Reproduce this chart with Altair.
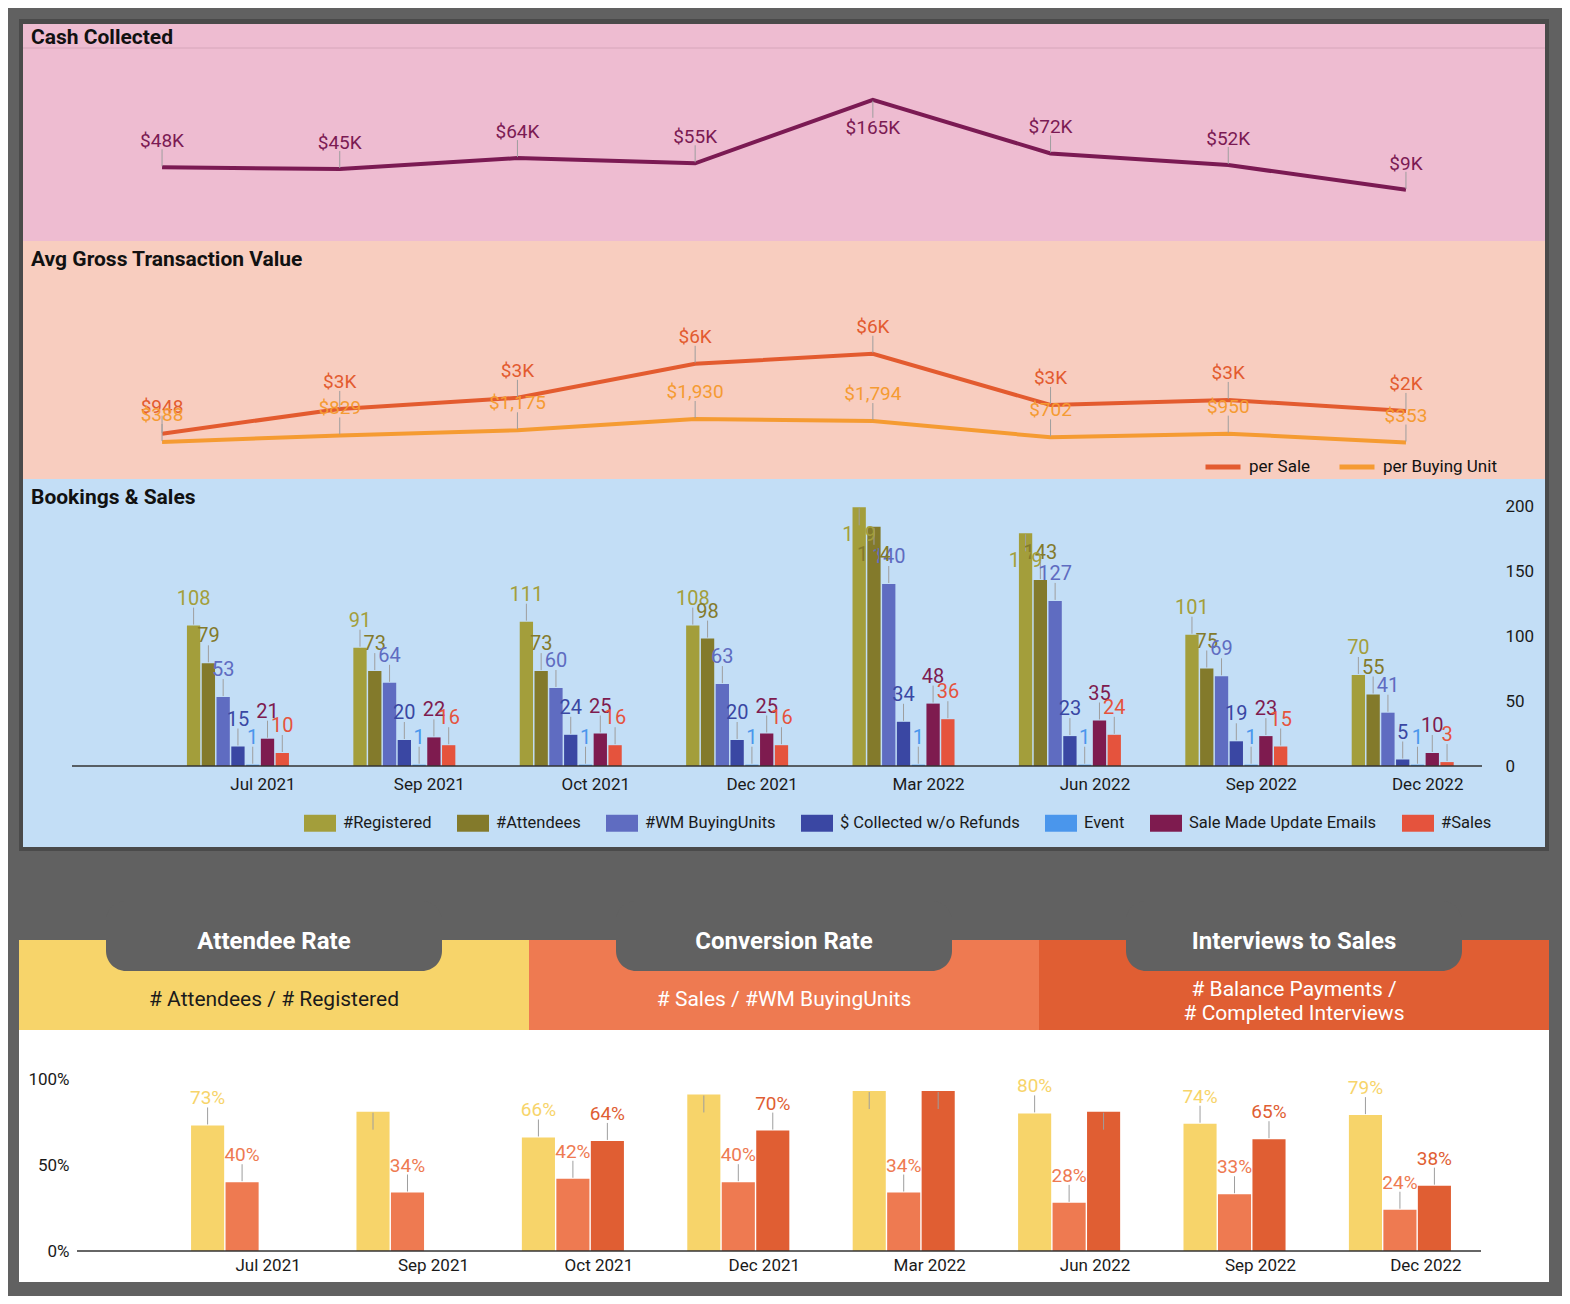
import altair as alt
import pandas as pd

# ---------------- data ----------------
months = ["Jul 2021", "Sep 2021", "Oct 2021", "Dec 2021",
          "Mar 2022", "Jun 2022", "Sep 2022", "Dec 2022"]

cash_collected = [48000, 45000, 64000, 55000, 165000, 72000, 52000, 9000]

agtv_series = ["per Sale", "per Buying Unit"]
agtv_per_sale = [948, 2604, 3349, 5631, 6302, 2872, 3208, 2470]
agtv_per_unit = [388, 829, 1175, 1930, 1794, 702, 950, 353]

booking_series = ["#Registered", "#Attendees", "#WM BuyingUnits",
                  "$ Collected w/o Refunds", "Event",
                  "Sale Made Update Emails", "#Sales"]
registered = [108, 91, 111, 108, 199, 179, 101, 70]
attendees = [79, 73, 73, 98, 184, 143, 75, 55]
wm_buying_units = [53, 64, 60, 63, 140, 127, 69, 41]
collected_wo_refunds = [15, 20, 24, 20, 34, 23, 19, 5]
event = [1, 1, 1, 1, 1, 1, 1, 1]
sale_update_emails = [21, 22, 25, 25, 48, 35, 23, 10]
sales = [10, 16, 16, 16, 36, 24, 15, 3]

rate_names = ["Attendee Rate", "Conversion Rate", "Interviews to Sales"]
rate_formulas = ["# Attendees / # Registered",
                 "# Sales / #WM BuyingUnits",
                 "# Balance Payments /\n# Completed Interviews"]
attendee_rate = [0.73, 0.81, 0.66, 0.91, 0.93, 0.80, 0.74, 0.79]
conversion_rate = [0.40, 0.34, 0.42, 0.40, 0.34, 0.28, 0.33, 0.24]
interviews_to_sales = [None, None, 0.64, 0.70, 0.93, 0.81, 0.65, 0.38]

# ---------------- style ----------------
FONT = "Roboto"
W = 1530
BG = "#616161"
BORDER = "#4a4a4a"
PINK = "#EEBCD1"
PEACH = "#F8CDBF"
BLUE = "#C3DEF6"
LEADER = "#9e9e9e"
CASH_COLOR = "#7B1A53"
agtv_colors = ["#E35B2F", "#F59B32"]
book_colors = ["#A39E3B", "#837A2B", "#5F6CC1", "#3A47A3",
               "#4A96EC", "#7E1B4F", "#E5533D"]
rate_colors = ["#F7D46A", "#EE7A51", "#E05E33"]


def block(color, x0, x1, y0, y1):
    return alt.Chart(pd.DataFrame({"block": [color]})).mark_rect(color=color).encode(
        x=alt.value(x0), x2=alt.value(x1), y=alt.value(y0), y2=alt.value(y1))


def heading(text, y):
    return alt.Chart(pd.DataFrame({"heading": [text]})).mark_text(
        align="left", baseline="alphabetic", fontSize=21, fontWeight="bold",
        color="#111111", font=FONT
    ).encode(x=alt.value(12), y=alt.value(y), text="heading:N")


# ---------------- Cash Collected ----------------
H1 = 222
cash_df = pd.DataFrame({"month": months, "cash": cash_collected})
cash_df["label"] = ["$%dK" % round(v / 1000) for v in cash_collected]
cash_df["pos"] = ["below" if v > 150000 else "above" for v in cash_collected]

cx = alt.X("month:N", sort=months, scale=alt.Scale(type="point", padding=0.805), axis=None)
cy = alt.Y("cash:Q", scale=alt.Scale(domain=[-79700, 305000], nice=False, zero=False), axis=None)
cash_base = alt.Chart(cash_df).encode(x=cx, y=cy)

cash_chart = alt.layer(
    block(BORDER, 0, W, 0, H1),
    block(PINK, 4, W - 4, 5, H1),
    alt.Chart(pd.DataFrame({"r": [0]})).mark_rule(color="#D6A6BA", strokeWidth=1).encode(
        x=alt.value(4), x2=alt.value(W - 4), y=alt.value(29)),
    heading("Cash Collected", 25),
    cash_base.mark_line(color=CASH_COLOR, strokeWidth=4),
    cash_base.transform_filter("datum.pos == 'above'").mark_rule(
        color=LEADER, strokeWidth=1, yOffset=-18, y2Offset=-1).encode(y2=alt.Y2("cash")),
    cash_base.transform_filter("datum.pos == 'below'").mark_rule(
        color=LEADER, strokeWidth=1, yOffset=1, y2Offset=18).encode(y2=alt.Y2("cash")),
    cash_base.transform_filter("datum.pos == 'above'").mark_text(
        dy=-26, fontSize=19, color=CASH_COLOR, font=FONT).encode(text="label:N"),
    cash_base.transform_filter("datum.pos == 'below'").mark_text(
        dy=28, fontSize=19, color=CASH_COLOR, font=FONT).encode(text="label:N"),
).properties(width=W, height=H1)

# ---------------- Avg Gross Transaction Value ----------------
H2 = 238
rows = []
for m, s, u in zip(months, agtv_per_sale, agtv_per_unit):
    rows.append({"month": m, "series": "per Sale", "agtv": s,
                 "label": ("$%dK" % round(s / 1000)) if s >= 1000 else "$%d" % s})
    rows.append({"month": m, "series": "per Buying Unit", "agtv": u,
                 "label": "${:,}".format(u)})
agtv_df = pd.DataFrame(rows)

ax_ = alt.X("month:N", sort=months, scale=alt.Scale(type="point", padding=0.805), axis=None)
ay_ = alt.Y("agtv:Q", scale=alt.Scale(domain=[-2091, 13861], nice=False, zero=False), axis=None)
agtv_scale = alt.Scale(domain=agtv_series, range=agtv_colors)
agtv_legend = alt.Legend(
    title=None, orient="none", legendX=1184, legendY=206, direction="horizontal",
    symbolType="stroke", symbolSize=1225, symbolStrokeWidth=5,
    labelFontSize=17, labelColor="#111111", labelFont=FONT, labelLimit=300,
    columnPadding=18, padding=0, labelOffset=6)
agtv_base = alt.Chart(agtv_df).encode(x=ax_, y=ay_)

agtv_chart = alt.layer(
    block(BORDER, 0, W, 0, H2),
    block(PEACH, 4, W - 4, 0, H2),
    heading("Avg Gross Transaction Value", 25),
    agtv_base.mark_line(strokeWidth=4).encode(
        color=alt.Color("series:N", scale=agtv_scale, legend=agtv_legend)),
    agtv_base.mark_rule(color=LEADER, strokeWidth=1, yOffset=-18, y2Offset=-1).encode(
        y2=alt.Y2("agtv"), detail="series:N"),
    agtv_base.mark_text(dy=-27, fontSize=19, font=FONT).encode(
        text="label:N",
        color=alt.Color("series:N", scale=agtv_scale, legend=None)),
).properties(width=W, height=H2)

# ---------------- Bookings & Sales ----------------
H3 = 372
book_values = [registered, attendees, wm_buying_units, collected_wo_refunds,
               event, sale_update_emails, sales]
rows = []
for s, vals in zip(booking_series, book_values):
    for m, v in zip(months, vals):
        rows.append({"month": m, "bseries": s, "count": v, "label": str(v),
                     "pos": "below" if v > 170 else "above"})
book_df = pd.DataFrame(rows)

bx = alt.X("month:N", sort=months,
           scale=alt.Scale(paddingInner=0.387, paddingOuter=0.791, align=0.638),
           axis=alt.Axis(orient="bottom", offset=-85, labelPadding=10, domain=False,
                         ticks=False, grid=False, labelFontSize=17, labelColor="#1a1a1a",
                         labelFont=FONT, labelOffset=25, labelAngle=0, title=None,
                         zindex=2))
bxo = alt.XOffset("bseries:N", sort=booking_series, scale=alt.Scale(paddingInner=0.1))
by = alt.Y("count:Q", scale=alt.Scale(domain=[-65.38, 220.77], nice=False, zero=False),
           axis=alt.Axis(orient="right", values=[0, 50, 100, 150, 200], offset=-49,
                         labelPadding=5, domain=False, ticks=False, grid=False,
                         labelFontSize=17, labelColor="#1a1a1a", labelFont=FONT, title=None,
                         zindex=2))
book_scale = alt.Scale(domain=booking_series, range=book_colors)
book_legend = alt.Legend(
    title=None, orient="none", legendX=285, legendY=328, direction="horizontal",
    symbolType="M-1,-0.53H1V0.53H-1Z", symbolSize=1024, symbolStrokeWidth=0,
    labelFontSize=16.5, labelColor="#1a1a1a", labelFont=FONT, labelLimit=400,
    columnPadding=25, padding=0, labelOffset=7)
book_base = alt.Chart(book_df).encode(x=bx, xOffset=bxo, y=by)

book_chart = alt.layer(
    block(BORDER, 0, W, 0, H3),
    block(BLUE, 4, W - 4, 0, H3 - 4),
    heading("Bookings & Sales", 25),
    book_base.mark_bar().encode(
        color=alt.Color("bseries:N", scale=book_scale, legend=book_legend)),
    alt.Chart(pd.DataFrame({"r": [0]})).mark_rule(color="#333333", strokeWidth=1.5).encode(
        y=alt.datum(0), x=alt.value(53), x2=alt.value(1463)),
    book_base.transform_filter("datum.pos == 'above'").mark_rule(
        color=LEADER, strokeWidth=1, yOffset=-18, y2Offset=-1).encode(y2=alt.Y2("count")),
    book_base.transform_filter("datum.pos == 'below'").mark_rule(
        color=LEADER, strokeWidth=1, yOffset=1, y2Offset=18).encode(y2=alt.Y2("count")),
    book_base.transform_filter("datum.pos == 'above'").mark_text(
        dy=-27, fontSize=20, font=FONT).encode(
        text="label:N", color=alt.Color("bseries:N", scale=book_scale, legend=None)),
    book_base.transform_filter("datum.pos == 'below'").mark_text(
        dy=28, fontSize=20, font=FONT).encode(
        text="label:N", color=alt.Color("bseries:N", scale=book_scale, legend=None)),
).properties(width=W, height=H3)

# ---------------- header band ----------------
H4 = 179
head_df = pd.DataFrame({"metric": rate_names, "formula": rate_formulas})
head_df["lines"] = [len(f.split("\n")) for f in rate_formulas]
hx = alt.X("metric:N", sort=rate_names, scale=alt.Scale(paddingInner=0, paddingOuter=0), axis=None)
head_base = alt.Chart(head_df).encode(x=hx)
sub_color = alt.condition(alt.datum.metric == rate_names[0],
                          alt.value("#1b1b1b"), alt.value("white"))

head_chart = alt.layer(
    block(BG, 0, W, 0, H4),
    head_base.mark_rect().encode(
        y=alt.value(89), y2=alt.value(H4),
        color=alt.Color("metric:N", scale=alt.Scale(domain=rate_names, range=rate_colors), legend=None)),
    head_base.mark_bar(width=336, cornerRadius=20, color=BG).encode(
        y=alt.value(50), y2=alt.value(120)),
    head_base.mark_text(fontSize=24, fontWeight="bold", color="white",
                        baseline="alphabetic", font=FONT).encode(
        y=alt.value(98), text="metric:N"),
    head_base.transform_filter("datum.lines == 1").mark_text(
        fontSize=21, baseline="middle", font=FONT).encode(
        y=alt.value(149), text="formula:N", color=sub_color),
    head_base.transform_filter("datum.lines == 2").mark_text(
        fontSize=21, baseline="middle", lineBreak="\n", lineHeight=24, font=FONT).encode(
        y=alt.value(139), text="formula:N", color=sub_color),
).properties(width=W, height=H4)

# ---------------- rates chart ----------------
H5 = 252
rate_values = [attendee_rate, conversion_rate, interviews_to_sales]
rows = []
for r, vals in zip(rate_names, rate_values):
    for m, v in zip(months, vals):
        if v is None:
            continue
        rows.append({"month": m, "metric": r, "rate": v,
                     "label": "%d%%" % round(v * 100),
                     "pos": "below" if v > 0.805 else "above"})
rate_df = pd.DataFrame(rows)

px = alt.X("month:N", sort=months,
           scale=alt.Scale(paddingInner=0.383, paddingOuter=0.8165, align=0.637),
           axis=alt.Axis(orient="bottom", offset=-31, labelPadding=6, domain=False,
                         ticks=False, grid=False, labelFontSize=17, labelColor="#1a1a1a",
                         labelFont=FONT, labelOffset=26, labelAngle=0, title=None,
                         zindex=2))
pxo = alt.XOffset("metric:N", sort=rate_names, scale=alt.Scale(paddingInner=0.04))
py = alt.Y("rate:Q", scale=alt.Scale(domain=[-0.1802, 1.2849], nice=False, zero=False),
           axis=alt.Axis(orient="left", values=[0, 0.5, 1], format=".0%", offset=-58,
                         labelPadding=8, domain=False, ticks=False, grid=False,
                         labelFontSize=17, labelColor="#1a1a1a", labelFont=FONT, title=None,
                         zindex=2))
rate_scale = alt.Scale(domain=rate_names, range=rate_colors)
rate_base = alt.Chart(rate_df).encode(x=px, xOffset=pxo, y=py)

pct_chart = alt.layer(
    block("white", 0, W, 0, H5),
    rate_base.mark_bar().encode(color=alt.Color("metric:N", scale=rate_scale, legend=None)),
    alt.Chart(pd.DataFrame({"r": [0]})).mark_rule(color="#333333", strokeWidth=1.5).encode(
        y=alt.datum(0), x=alt.value(58), x2=alt.value(1462)),
    rate_base.transform_filter("datum.pos == 'above'").mark_rule(
        color=LEADER, strokeWidth=1, yOffset=-18, y2Offset=-1).encode(y2=alt.Y2("rate")),
    rate_base.transform_filter("datum.pos == 'below'").mark_rule(
        color=LEADER, strokeWidth=1, yOffset=1, y2Offset=18).encode(y2=alt.Y2("rate")),
    rate_base.transform_filter("datum.pos == 'above'").mark_text(
        dy=-27, fontSize=19, font=FONT).encode(
        text="label:N", color=alt.Color("metric:N", scale=rate_scale, legend=None)),
).properties(width=W, height=H5)

# ---------------- assemble ----------------
chart = alt.vconcat(
    cash_chart, agtv_chart, book_chart, head_chart, pct_chart, spacing=0
).resolve_scale(
    x="independent", y="independent", color="independent", xOffset="independent"
).resolve_legend(color="independent").properties(
    background=BG,
    padding={"left": 11, "top": 11, "right": 13, "bottom": 14},
).configure(font=FONT).configure_view(strokeWidth=0)

chart.save("out.html", embed_options={"renderer": "svg", "actions": False})
